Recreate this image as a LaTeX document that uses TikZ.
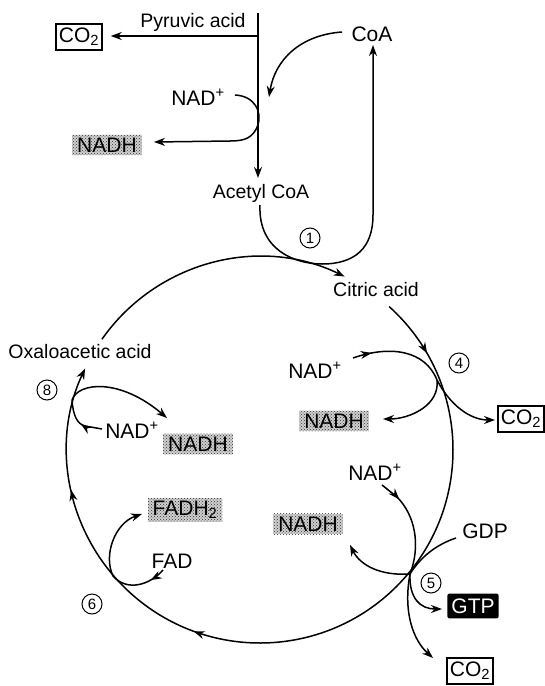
\documentclass[tikz,border=0pt]{standalone}
\usepackage{fontspec}
\setmainfont{Liberation Sans}
\usetikzlibrary{arrows.meta,decorations.markings,patterns}
\tikzset{
  lbl/.style={font=\fontsize{19.5}{21}\selectfont, inner sep=1pt},
  cof/.style={font=\fontsize{21}{23}\selectfont, inner sep=1pt},
  boxed/.style={cof, draw, line width=1.3pt, inner xsep=3pt, inner ysep=4pt},
  stip/.style={cof, preaction={fill=gray!38}, pattern=crosshatch dots, pattern color=black!80, inner xsep=5pt, inner ysep=3pt},
  blk/.style={cof, fill=black, text=white, rounded corners=2pt, inner xsep=4pt, inner ysep=5pt},
  num/.style={circle, draw, line width=1pt, inner sep=0pt, minimum size=20pt, font=\fontsize{15}{15}\selectfont},
  flow/.style={line width=1.5pt},
  tip/.style={-{Stealth[length=11pt,width=8pt]}},
  midarrow/.style={postaction={decorate}, decoration={markings, mark=at position #1 with {\arrow{Stealth[length=11pt,width=8pt]}}}},
  circmarks/.style={postaction={decorate}, decoration={markings,
      mark=at position 0.071 with {\arrow{Stealth[length=11pt,width=8pt]}},
      mark=at position 0.625 with {\arrow{Stealth[length=11pt,width=8pt]}},
      mark=at position 0.854 with {\arrow{Stealth[length=11pt,width=8pt]}}}}
}
\begin{document}
\begin{tikzpicture}[x=1pt,y=1pt]
\useasboundingbox (0,0) rectangle (545,-686);

% ---- top: pyruvic acid to acetyl CoA ----
\node[lbl] (pyr) at (193,-22) {Pyruvic acid};
\node[boxed] (co2a) at (79,-37) {CO\textsubscript{2}};
\node[lbl] (acetyl) at (261,-193) {Acetyl CoA};
\node[cof] (coa) at (372,-34) {CoA};
\node[cof] (nad1) at (198,-97) {NAD\textsuperscript{+}};
\node[stip] (nadh1) at (107,-145) {NADH};

\coordinate (ptop) at (258,-13);
\coordinate (pyrend) at (258,-178);
\coordinate (pbr) at (258,-36);
\draw[flow,tip] (ptop) -- (pyrend);
\draw[flow,tip] (pbr) -- ([xshift=8pt]co2a.east |- pbr);
\draw[flow,tip] (342,-32) .. controls (300,-35) and (275,-60) .. (269,-97);
\draw[flow,tip] (235,-95) .. controls (255,-96) and (262,-112) .. (258,-125)
   .. controls (253,-138) and (245,-141) .. (230,-141) -- ([xshift=12pt]nadh1.east |- 0,-142);
\draw[flow,tip] (260,-205) .. controls (258,-250) and (295,-264) .. (322,-264)
   .. controls (355,-264) and (373,-248) .. (373,-215) -- (373,-45);
\node[num] (s1) at (310,-238) {1};

% ---- the cycle ----
\coordinate (C) at (260,-450);
\path (C) ++(145:193pt) coordinate (a145);
\path (C) ++(48:193pt) coordinate (a48);
\draw[flow,tip] (a145) arc[start angle=145, end angle=64, radius=193pt];
\draw[flow,tip,circmarks] (a48) arc[start angle=48, end angle=-205, radius=193pt];

\node[lbl] (cit) at (376,-290) {Citric acid};
\node[lbl] (oxa) at (80,-352) {Oxaloacetic acid};

% ---- step 4 ----
\coordinate (j4) at (437,-380);
\node[cof] (nad4) at (315,-370) {NAD\textsuperscript{+}};
\node[stip] (nadh4) at (334,-421) {NADH};
\node[boxed] (co2b) at (521,-419) {CO\textsubscript{2}};
\node[num] (s4) at (459,-363) {4};
\draw[flow,midarrow=0.2] (353,-358) .. controls (390,-345) and (425,-350) .. (j4);
\draw[flow,tip] (j4) .. controls (440,-405) and (410,-419) .. (383,-419);
\draw[flow,tip] (j4) .. controls (450,-405) and (470,-420) .. (495,-420);

% ---- step 5 ----
\coordinate (j5) at (410,-574);
\node[cof] (nad5) at (375,-472) {NAD\textsuperscript{+}};
\node[cof] (gdp) at (485,-531) {GDP};
\node[stip] (nadh5) at (308,-524) {NADH};
\node[blk] (gtp) at (473,-606) {GTP};
\node[boxed] (co2c) at (470,-671) {CO\textsubscript{2}};
\node[num] (s5) at (431,-583) {5};
\draw[flow,midarrow=0.22] (382,-485) -- (397,-497) .. controls (415,-515) and (421,-545) .. (j5);
\draw[flow] (456,-538) .. controls (435,-545) and (420,-558) .. (j5);
\draw[flow,tip] (j5) .. controls (380,-576) and (360,-565) .. (350,-545);
\draw[flow,tip] (j5) .. controls (409,-598) and (420,-609) .. (442,-609);
\draw[flow,tip] (j5) .. controls (403,-612) and (413,-640) .. (433,-658);

% ---- step 6 ----
\node[cof] (fad) at (172,-561) {FAD};
\node[stip] (fadh) at (185,-510) {FADH\textsubscript{2}};
\node[num] (s6) at (92,-604) {6};
\draw[flow,tip,midarrow=0.12] (163,-570) .. controls (150,-585) and (127,-592) .. (113,-576)
   .. controls (103,-555) and (115,-523) .. (142,-514);

% ---- step 8 ----
\coordinate (j8) at (72,-400);
\node[cof] (nad8) at (132,-430) {NAD\textsuperscript{+}};
\node[stip] (nadh8) at (198,-444) {NADH};
\node[num] (s8) at (47,-390) {8};
\draw[flow,midarrow=0.45] (102,-429) -- (85,-426) .. controls (77,-424) and (73,-415) .. (j8);
\draw[flow,tip] (j8) .. controls (78,-382) and (120,-378) .. (167,-418);
\end{tikzpicture}
\end{document}
